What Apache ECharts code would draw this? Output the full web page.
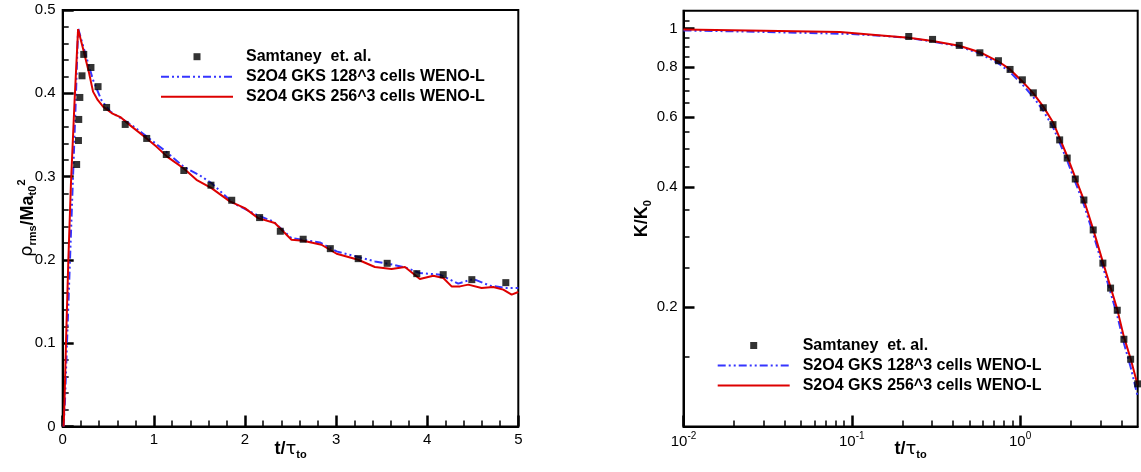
<!DOCTYPE html>
<html><head><meta charset="utf-8">
<script src="https://cdn.jsdelivr.net/npm/echarts@6/dist/echarts.min.js"></script>
<style>html,body{margin:0;padding:0;background:#fff}#c{width:1141px;height:472px}</style>
</head><body><div id="c"></div>
<script>
const FONT = 'Liberation Sans, Arial, Helvetica, sans-serif';
const seriesNames = ['Samtaney  et. al.', 'S2O4 GKS 128^3 cells WENO-L', 'S2O4 GKS 256^3 cells WENO-L'];

const rhoRefT = [0.153, 0.173, 0.176, 0.188, 0.212, 0.231, 0.31, 0.388, 0.482, 0.686, 0.922, 1.137, 1.329, 1.627, 1.855, 2.161, 2.388, 2.639, 2.937, 3.243, 3.561, 3.886, 4.176, 4.49, 4.863];
const rhoRefV = [0.3145, 0.3433, 0.3686, 0.395, 0.421, 0.4467, 0.431, 0.408, 0.383, 0.3626, 0.3458, 0.3265, 0.3073, 0.2897, 0.2716, 0.2508, 0.2344, 0.2248, 0.2135, 0.2015, 0.1959, 0.1835, 0.1823, 0.1763, 0.1727];
const rho128T = [0.01, 0.025, 0.047, 0.08, 0.11, 0.14, 0.169, 0.247, 0.333, 0.424, 0.522, 0.639, 0.757, 0.922, 1.137, 1.329, 1.502, 1.633, 1.871, 2.127, 2.31, 2.511, 2.822, 3.006, 3.243, 3.426, 3.628, 3.774, 3.92, 4.14, 4.341, 4.506, 4.689, 4.872, 5.0];
const rho128V = [0, 0.03, 0.1, 0.2, 0.29, 0.38, 0.478, 0.448, 0.416, 0.392, 0.378, 0.370, 0.362, 0.348, 0.3297, 0.3117, 0.3017, 0.2922, 0.2682, 0.2542, 0.2462, 0.2262, 0.221, 0.2102, 0.2035, 0.1982, 0.1942, 0.1903, 0.1843, 0.1823, 0.1715, 0.1771, 0.1691, 0.1663, 0.1663];
const rho256T = [0.01, 0.02, 0.036, 0.062, 0.09, 0.13, 0.169, 0.227, 0.286, 0.333, 0.384, 0.443, 0.541, 0.639, 0.737, 0.922, 1.031, 1.149, 1.329, 1.468, 1.633, 1.834, 1.999, 2.145, 2.328, 2.511, 2.639, 2.84, 3.006, 3.243, 3.426, 3.609, 3.756, 3.92, 4.067, 4.177, 4.268, 4.36, 4.451, 4.597, 4.725, 4.835, 4.927, 5.0];
const rho256V = [0, 0.03, 0.1, 0.2, 0.29, 0.39, 0.477, 0.452, 0.426, 0.402, 0.392, 0.384, 0.376, 0.371, 0.3618, 0.3458, 0.3357, 0.3237, 0.3097, 0.2962, 0.2862, 0.2702, 0.2622, 0.2502, 0.2442, 0.2242, 0.223, 0.2182, 0.2074, 0.2002, 0.1915, 0.1891, 0.1915, 0.1771, 0.181, 0.1783, 0.1682, 0.1682, 0.1703, 0.1663, 0.1675, 0.1643, 0.1583, 0.1615];

const kRefT = [0.218, 0.302, 0.435, 0.577, 0.744, 0.872, 1.032, 1.199, 1.374, 1.569, 1.719, 1.906, 2.128, 2.395, 2.72, 3.105, 3.45, 3.78, 4.14, 4.54, 5.0];
const kRefV = [0.956, 0.940, 0.908, 0.870, 0.831, 0.790, 0.744, 0.690, 0.633, 0.574, 0.5255, 0.473, 0.419, 0.371, 0.312, 0.2575, 0.2228, 0.196, 0.1657, 0.1476, 0.128];
const k128T = [0.01, 0.02, 0.05, 0.1, 0.15, 0.218, 0.302, 0.435, 0.577, 0.744, 0.872, 1.032, 1.199, 1.374, 1.569, 1.719, 1.906, 2.118, 2.395, 2.72, 3.105, 3.45, 3.78, 4.14, 4.54, 5.0];
const k128V = [0.99, 0.985, 0.977, 0.970, 0.960, 0.948, 0.929, 0.902, 0.866, 0.818, 0.778, 0.724, 0.673, 0.622, 0.566, 0.517, 0.466, 0.414, 0.361, 0.305, 0.252, 0.217, 0.190, 0.162, 0.141, 0.119];
const k256T = [0.01, 0.03, 0.085, 0.15, 0.218, 0.302, 0.435, 0.577, 0.744, 0.872, 1.032, 1.199, 1.374, 1.569, 1.719, 1.906, 2.118, 2.395, 2.72, 3.105, 3.45, 3.78, 4.14, 4.54, 5.0];
const k256V = [0.995, 0.989, 0.981, 0.962, 0.949, 0.931, 0.906, 0.873, 0.827, 0.790, 0.737, 0.688, 0.637, 0.582, 0.531, 0.478, 0.425, 0.371, 0.313, 0.259, 0.224, 0.197, 0.168, 0.148, 0.127];

const leftXTicks = [0, 1, 2, 3, 4, 5];
const leftYTicks = [0, 0.1, 0.2, 0.3, 0.4, 0.5];
const rightXMajor = [0.0100001, 0.1, 1];
const rightXMinor = [0.02, 0.03, 0.04, 0.05, 0.06, 0.07, 0.08, 0.09, 0.2, 0.3, 0.4, 0.5, 0.6, 0.7, 0.8, 0.9, 2, 3, 4];
const rightYMajor = [0.2, 0.4, 0.6, 0.8, 1];
const rightYMinor = [0.15, 0.25, 0.3, 0.35, 0.45, 0.5, 0.55, 0.65, 0.7, 0.75, 0.85, 0.9, 0.95, 1.05];

const zip = (a, b) => a.map((v, i) => [v, b[i]]);

const BLUE = '#3535ff', RED = '#dd0000';
const DASH = [8, 3, 2, 3, 2, 3];
const TICK_COLOR = '#000';
const axisLine = { show: true, lineStyle: { color: '#000', width: 2 } };
const majorTick = { show: true, inside: true, length: 11, lineStyle: { color: TICK_COLOR, width: 2.5 } };
const minorTickStyle = { show: true, inside: true, length: 6, lineStyle: { color: TICK_COLOR, width: 1.5 } };
const labelStyle = { color: '#000', fontSize: 15, fontFamily: FONT };

const nameRich = {
  b: { fontSize: 18, fontWeight: 'bold', fontFamily: FONT, color: '#000', lineHeight: 22 },
  g: { fontSize: 18, fontFamily: 'DejaVu Sans, ' + FONT, color: '#000', lineHeight: 22 },
  s: { fontSize: 11, fontWeight: 'bold', fontFamily: FONT, color: '#000', lineHeight: 8, verticalAlign: 'bottom' },
  p: { fontSize: 11, fontWeight: 'bold', fontFamily: FONT, color: '#000', lineHeight: 8, verticalAlign: 'top' }
};

const legendCommon = {
  orient: 'vertical', itemWidth: 72, itemHeight: 14, itemGap: 4, padding: 0,
  selectedMode: false,
  textStyle: { fontSize: 16, fontWeight: 'bold', color: '#000', fontFamily: FONT, lineHeight: 16, padding: [0, 0, 0, 8] },
  data: [
    { name: seriesNames[0], icon: 'path://M0,0M10,10M2.5,2.5H7.5V7.5H2.5Z' },
    { name: seriesNames[1], itemStyle: { opacity: 0 } },
    { name: seriesNames[2], itemStyle: { opacity: 0 } }
  ]
};

const option = {
  animation: false,
  backgroundColor: '#fff',
  grid: [
    { left: 62.7, top: 10, width: 455.6, height: 416.5, show: true, borderColor: '#000', borderWidth: 2, containLabel: false },
    { left: 683.5, top: 10.7, width: 454.2, height: 415.8, show: true, borderColor: '#000', borderWidth: 2, containLabel: false },
    { left: 683.5, top: 10.7, width: 454.2, height: 415.8, show: false, containLabel: false }
  ],
  legend: [
    Object.assign({}, legendCommon, { left: 160, top: 48.7 }),
    Object.assign({}, legendCommon, { left: 716.7, top: 337.5 })
  ],
  xAxis: [
    {
      gridIndex: 0, type: 'value', min: leftXTicks[0], max: leftXTicks[leftXTicks.length - 1], interval: 1,
      axisLine, axisTick: majorTick, minorTick: Object.assign({ splitNumber: 5 }, minorTickStyle),
      splitLine: { show: false }, minorSplitLine: { show: false },
      axisLabel: Object.assign({ margin: 6 }, labelStyle),
      name: '{b|t/}{g|τ}{s|to}', nameLocation: 'middle', nameGap: 12, nameMoveOverlap: false,
      nameTextStyle: { rich: nameRich }
    },
    {
      gridIndex: 1, type: 'log', logBase: 10, min: 0.01, max: 5,
      axisLine, axisTick: Object.assign({}, majorTick, { customValues: rightXMajor }),
      splitLine: { show: false },
      axisLabel: Object.assign({
        margin: 5, lineHeight: 20, customValues: rightXMajor,
        formatter: v => '10{sup|' + Math.round(Math.log10(v)) + '}',
        rich: { sup: { fontSize: 10, fontFamily: FONT, color: '#000', verticalAlign: 'top', lineHeight: 8 } }
      }, labelStyle),
      name: '{b|t/}{g|τ}{s|to}', nameLocation: 'middle', nameGap: 12, nameMoveOverlap: false,
      nameTextStyle: { rich: nameRich }
    },
    {
      gridIndex: 2, type: 'log', logBase: 10, min: 0.01, max: 5,
      axisLine: { show: false }, axisLabel: { show: false }, splitLine: { show: false },
      axisTick: Object.assign({}, minorTickStyle, { customValues: rightXMinor })
    }
  ],
  yAxis: [
    {
      gridIndex: 0, type: 'value', min: leftYTicks[0], max: leftYTicks[leftYTicks.length - 1], interval: 0.1,
      axisLine, axisTick: majorTick, minorTick: Object.assign({ splitNumber: 5 }, minorTickStyle),
      splitLine: { show: false }, minorSplitLine: { show: false },
      axisLabel: Object.assign({ margin: 7 }, labelStyle),
      name: '{g|ρ}{s|rms}{b|/Ma}{s|t0}{p|2}', nameLocation: 'middle', nameGap: 24, nameMoveOverlap: false,
      nameTextStyle: { rich: nameRich }
    },
    {
      gridIndex: 1, type: 'log', logBase: 10, min: 0.1, max: 1.11,
      axisLine, axisTick: Object.assign({}, majorTick, { customValues: rightYMajor }),
      splitLine: { show: false },
      axisLabel: Object.assign({ margin: 6, customValues: rightYMajor, formatter: v => String(parseFloat((+v).toFixed(2))) }, labelStyle),
      name: '{b|K/K}{s|0}', nameLocation: 'middle', nameGap: 30, nameMoveOverlap: false,
      nameTextStyle: { rich: nameRich }
    },
    {
      gridIndex: 2, type: 'log', logBase: 10, min: 0.1, max: 1.11,
      axisLine: { show: false }, axisLabel: { show: false }, splitLine: { show: false },
      axisTick: Object.assign({}, minorTickStyle, { customValues: rightYMinor })
    }
  ],
  series: [
    { name: seriesNames[1], type: 'line', xAxisIndex: 0, yAxisIndex: 0, data: zip(rho128T, rho128V), symbol: 'none', z: 2,
      itemStyle: { color: BLUE }, lineStyle: { color: BLUE, width: 2, type: DASH } },
    { name: seriesNames[2], type: 'line', xAxisIndex: 0, yAxisIndex: 0, data: zip(rho256T, rho256V), symbol: 'none', z: 3,
      itemStyle: { color: RED }, lineStyle: { color: RED, width: 2 } },
    { name: seriesNames[0], type: 'scatter', xAxisIndex: 0, yAxisIndex: 0, data: zip(rhoRefT, rhoRefV), symbol: 'rect', symbolSize: 7, z: 4,
      itemStyle: { color: '#000' } },
    { name: seriesNames[1], type: 'line', xAxisIndex: 1, yAxisIndex: 1, data: zip(k128T, k128V), symbol: 'none', z: 2,
      itemStyle: { color: BLUE }, lineStyle: { color: BLUE, width: 2, type: DASH } },
    { name: seriesNames[2], type: 'line', xAxisIndex: 1, yAxisIndex: 1, data: zip(k256T, k256V), symbol: 'none', z: 3,
      itemStyle: { color: RED }, lineStyle: { color: RED, width: 2 } },
    { name: seriesNames[0], type: 'scatter', xAxisIndex: 1, yAxisIndex: 1, data: zip(kRefT, kRefV), symbol: 'rect', symbolSize: 7, z: 4,
      itemStyle: { color: '#000' }, clip: false }
  ]
};

const chart = echarts.init(document.getElementById('c'), null, { renderer: 'canvas' });
chart.setOption(option);
</script>
</body></html>
